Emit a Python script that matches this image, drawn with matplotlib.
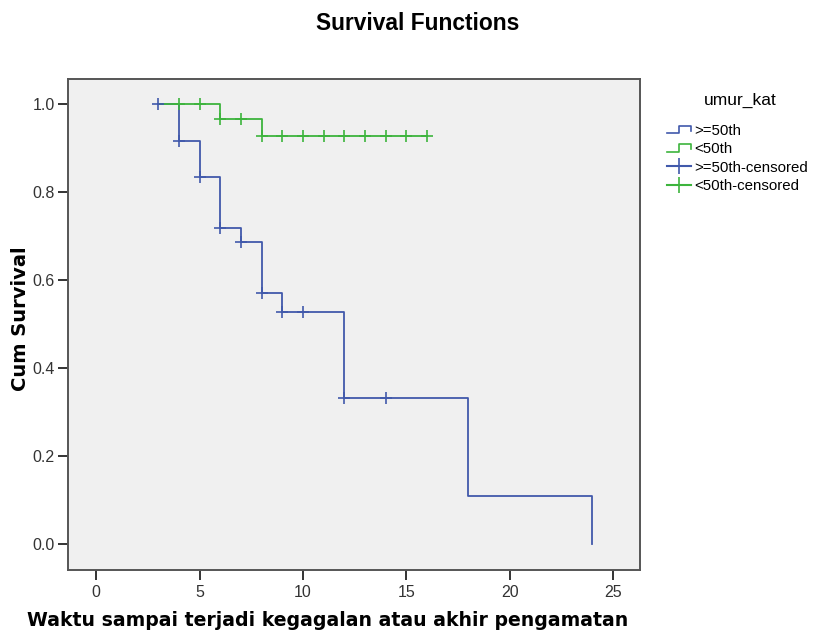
import matplotlib.pyplot as plt
from matplotlib.legend_handler import HandlerBase
from matplotlib.lines import Line2D

plt.rcParams['font.family'] = ['Liberation Sans', 'DejaVu Sans']

# Kaplan-Meier steps (time, survival) for each group
old_t = [3, 4, 5, 6, 7, 8, 9, 12, 18, 24]
old_s = [1.0, 0.917, 0.834, 0.719, 0.686, 0.570, 0.527, 0.331, 0.110, 0.0]
old_end = 24
old_cens_t = [3, 4, 5, 6, 7, 8, 9, 10, 12, 14]
old_cens_s = [1.0, 0.917, 0.834, 0.719, 0.686, 0.570, 0.527, 0.527, 0.331, 0.331]

young_t = [3, 6, 8]
young_s = [1.0, 0.967, 0.927]
young_end = 16
young_cens_t = [4, 5, 6, 7, 8, 9, 10, 11, 12, 13, 14, 15, 16]
young_cens_s = [1.0, 1.0, 0.967, 0.967, 0.927, 0.927, 0.927, 0.927, 0.927,
                0.927, 0.927, 0.927, 0.927]

labels = ['>=50th', '<50th', '>=50th-censored', '<50th-censored']
blue = '#4159ab'
green = '#3db43d'


def step_xy(t, s, end):
    xs, ys = [t[0]], [s[0]]
    for i in range(1, len(t)):
        xs += [t[i], t[i]]
        ys += [s[i - 1], s[i]]
    if end > xs[-1]:
        xs.append(end)
        ys.append(ys[-1])
    return xs, ys


class StepHandler(HandlerBase):
    # little step icon like the SPSS legend
    def create_artists(self, legend, orig, xd, yd, w, h, fontsize, trans):
        c = orig.get_color()
        x = [xd, xd + w * 0.5, xd + w * 0.5, xd + w, xd + w]
        y = [yd + h * 0.15, yd + h * 0.15, yd + h * 0.85, yd + h * 0.85, yd + h * 0.35]
        return [Line2D(x, y, color=c, lw=1.2, transform=trans)]


fig = plt.figure(figsize=(8.18, 6.34), dpi=100)
ax = fig.add_axes([0.0831, 0.1009, 0.6993, 0.7745])
ax.set_facecolor('#f0f0f0')

bx, by = step_xy(old_t, old_s, old_end)
gx, gy = step_xy(young_t, young_s, young_end)
ax.plot(bx, by, color=blue, lw=1.3, zorder=2)
ax.plot(gx, gy, color=green, lw=1.3, zorder=3)
ax.plot(old_cens_t, old_cens_s, ls='none', marker='+', ms=9, mew=1.2,
        color=blue, zorder=4)
ax.plot(young_cens_t, young_cens_s, ls='none', marker='+', ms=9, mew=1.2,
        color=green, zorder=4)

ax.set_xlim(-1.36, 26.3)
ax.set_ylim(-0.059, 1.057)
ax.set_xticks([0, 5, 10, 15, 20, 25])
ax.set_yticks([0.0, 0.2, 0.4, 0.6, 0.8, 1.0])
ax.set_yticklabels(['0.0', '0.2', '0.4', '0.6', '0.8', '1.0'])
ax.tick_params(direction='out', length=7.5, width=1.4, labelsize=11.5,
               colors='#333333', pad=2)
ax.tick_params(axis='x', pad=3)
for sp in ax.spines.values():
    sp.set_color('#555555')
    sp.set_linewidth(1.4)

fig.text(0.400, 0.021, 'Waktu sampai terjadi kegagalan atau akhir pengamatan',
         ha='center', va='center', fontsize=13.6, fontweight='bold',
         family='DejaVu Sans')
fig.text(0.025, 0.497, 'Cum Survival', rotation=90, ha='center', va='center',
         fontsize=14, fontweight='bold', family='DejaVu Sans')
fig.text(0.511, 0.963, 'Survival Functions', ha='center', va='center',
         fontsize=16.4, fontweight='bold')

fig.text(0.905, 0.842, 'umur_kat', ha='center', va='center', fontsize=12.5)
h1 = Line2D([], [], color=blue)
h2 = Line2D([], [], color=green)
h3 = Line2D([], [], color=blue, marker='+', ms=11, mew=1.2)
h4 = Line2D([], [], color=green, marker='+', ms=11, mew=1.2)
fig.legend([h1, h2, h3, h4], labels, loc='upper left',
           bbox_to_anchor=(0.815, 0.805), frameon=False, fontsize=10.8,
           borderpad=0, borderaxespad=0, handlelength=1.6, handletextpad=0.25,
           labelspacing=0.3,
           handler_map={h1: StepHandler(), h2: StepHandler()})

fig.savefig('out.png', dpi=100)
